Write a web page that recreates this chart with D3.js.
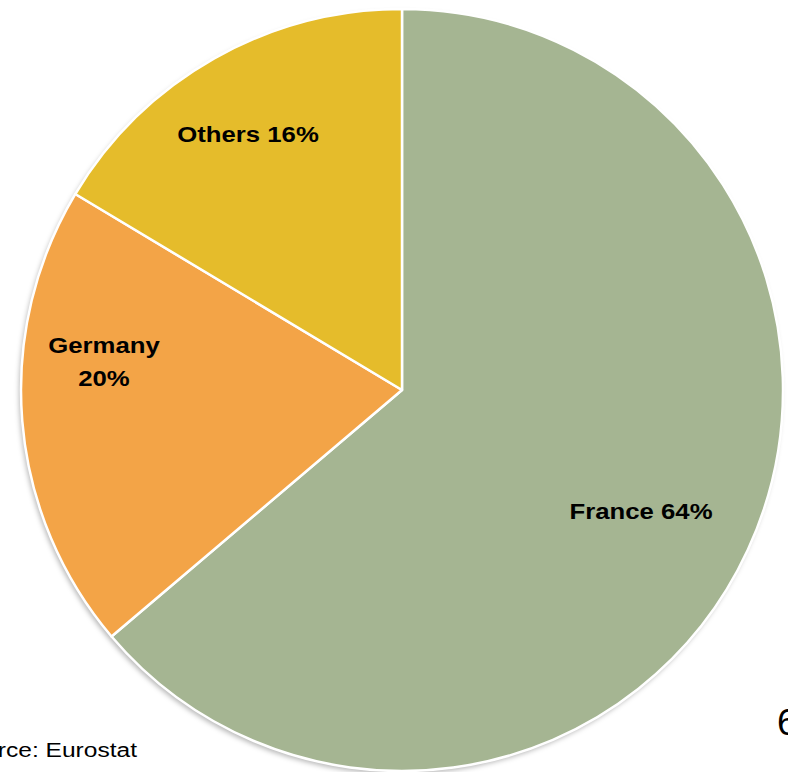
<!DOCTYPE html>
<html><head><meta charset="utf-8">
<script src="https://cdn.jsdelivr.net/npm/d3@7"></script>
<style>body{margin:0;background:#fff;} svg{display:block;}</style>
</head><body>
<svg id="c" width="788" height="772"></svg>
<script>
const categories = ["France", "Germany", "Others"];
const values = [63.8, 19.8, 16.4];
const labels = [["France 64%"], ["Germany", "20%"], ["Others 16%"]];
const colors = ["#A5B592", "#F3A447", "#E5BC2B"];

const svg = d3.select("#c");
const cx = 402, cy = 390, r = 381;
const defs = svg.append("defs");
const f = defs.append("filter").attr("id","sh").attr("x","-10%").attr("y","-10%").attr("width","120%").attr("height","120%");
f.append("feDropShadow").attr("dx",-2).attr("dy",3).attr("stdDeviation",2.5).attr("flood-color","#000").attr("flood-opacity",0.28);

const pie = d3.pie().sort(null).value(d => d)(values);
const arc = d3.arc().innerRadius(0).outerRadius(r);
const g = svg.append("g").attr("transform", `translate(${cx},${cy})`);
g.append("circle").attr("r", r).attr("fill","#fff").attr("filter","url(#sh)");
g.selectAll("path").data(pie).join("path")
  .attr("d", arc)
  .attr("fill", (d,i) => colors[i])
  .attr("stroke", "#fff").attr("stroke-width", 2.5).attr("stroke-linejoin","round");

// [x center, first baseline]
const labelPos = [[641, 519], [104, 353], [248, 142]];
const sx = 1.17;
labels.forEach((lines, i) => {
  const [x, y0] = labelPos[i];
  const t = svg.append("text")
    .attr("transform", `translate(${x},0) scale(${sx},1)`)
    .attr("text-anchor","middle")
    .attr("font-family","Liberation Sans, Arial, sans-serif")
    .attr("font-weight","bold").attr("font-size", 22).attr("fill","#000");
  lines.forEach((ln, j) => {
    t.append("tspan").attr("x", 0).attr("y", y0 + j * 33).text(ln);
  });
});

svg.append("text").attr("transform", `translate(137,757) scale(${sx},1)`).attr("text-anchor","end")
  .attr("font-family","Liberation Sans, Arial, sans-serif").attr("font-size", 21).attr("fill","#000")
  .text("Source: Eurostat");
svg.append("text").attr("x", 777).attr("y", 735)
  .attr("font-family","Liberation Sans, Arial, sans-serif").attr("font-size", 37).attr("fill","#000")
  .text("6");
</script>
</body></html>
